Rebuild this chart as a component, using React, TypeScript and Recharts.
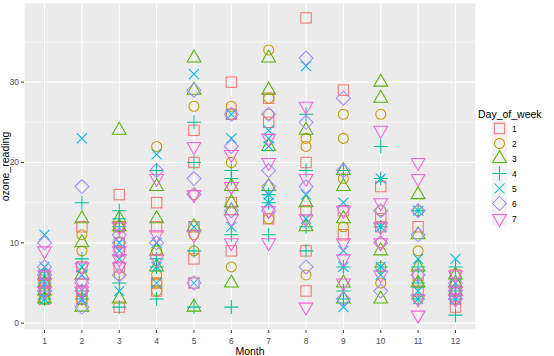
import React from 'react';
import { ScatterChart, Scatter, XAxis, YAxis, CartesianGrid, ReferenceLine, Legend } from 'recharts';

const MONTHS = [1, 2, 3, 4, 5, 6, 7, 8, 9, 10, 11, 12];
const Y_TICKS = [0, 10, 20, 30];
const Y_MINOR = [5, 15, 25, 35];
const DAY_LABELS = ['1', '2', '3', '4', '5', '6', '7'];
const DAY_COLORS = ['#F8766D', '#C49A00', '#53B400', '#00C094', '#00B6EB', '#A58AFF', '#FB61D7'];
const DAY_SHAPES = ['square', 'circle', 'triangle', 'plus', 'cross', 'diamond', 'triangleDown'];

// ozone readings per month (Jan..Dec) for each day of week
const day1 = [[6, 5, 4, 3], [12, 7, 4, 3], [16, 12, 10, 9, 7, 2], [15, 12, 5, 4], [24, 20, 12, 8, 5], [30, 26, 15, 9], [28, 25, 13], [38, 20, 14, 9, 4], [29, 14, 11], [17, 13, 12], [12, 6, 4], [6, 4, 3, 2]];
const day2 = [[5, 4, 3, 6], [11, 9, 4, 3], [12, 10, 6], [22, 9, 6, 5, 4], [27, 16, 11, 9], [27, 26, 20, 7], [34, 28, 26, 13], [23, 22, 6], [26, 23, 18, 12], [26, 14, 10, 7, 5], [14, 9, 5, 3], [5, 4, 3]];
const day3 = [[6, 5, 4, 3], [13, 10, 6, 2], [24, 13, 12, 3], [17, 13, 9, 7], [33, 29, 12, 2], [17, 15, 14, 5], [33, 29, 22, 17], [24, 15, 12], [19, 17, 13, 5, 3], [30, 28, 9, 3], [16, 11, 7, 5], [6, 5, 4]];
const day4 = [[6, 5, 4, 3], [15, 8, 4, 3], [14, 13, 12, 5, 2], [19, 8, 7, 3], [25, 20, 9, 2], [19, 18, 11, 2], [16, 15, 11], [26, 19, 12, 9], [19, 7, 4, 3], [22, 18, 12, 7], [14, 7, 5, 3], [7, 4, 3, 1]];
const day5 = [[11, 7, 5, 3], [23, 7, 6, 3], [10, 9, 8, 4], [21, 10, 7, 5], [31, 12, 5], [26, 23, 12], [24, 23, 22, 16, 15], [32, 16, 13], [15, 9, 7, 2], [18, 12, 7, 6], [14, 8, 4, 3], [8, 5, 3]];
const day6 = [[10, 7, 6, 4], [17, 5, 4, 2], [11, 10, 6], [19, 10], [29, 18, 16, 5], [26, 22, 14], [26, 19, 17, 14], [33, 25, 17, 7], [28, 19, 3], [14, 10, 4], [14, 11, 6], [5, 4, 3]];
const day7 = [[9, 5, 4, 6], [7, 4, 5], [12, 8, 7, 9], [18, 11, 8], [22, 16, 11], [21, 17, 13, 10], [23, 20, 14, 10], [27, 18, 13, 2], [14, 10, 8, 5], [24, 15, 12, 10, 6], [20, 18, 3, 1], [6, 4, 3]];

const DAYS = [day1, day2, day3, day4, day5, day6, day7];

const FONT = '"Liberation Sans", Arial, sans-serif';

const seriesData = DAYS.map((vals) =>
  MONTHS.flatMap((m, i) => vals[i].map((v) => ({ month: m, ozone: v })))
);

function Marker({ cx, cy, kind, color }: { cx: number; cy: number; kind: string; color: string }) {
  const sw = 1.05;
  switch (kind) {
    case 'square':
      return <rect x={cx - 5.2} y={cy - 5.2} width={10.4} height={10.4} fill="none" stroke={color} strokeWidth={sw} />;
    case 'circle':
      return <circle cx={cx} cy={cy} r={5} fill="none" stroke={color} strokeWidth={sw} />;
    case 'triangle':
      return <polygon points={`${cx},${cy - 8} ${cx + 6.9},${cy + 4} ${cx - 6.9},${cy + 4}`} fill="none" stroke={color} strokeWidth={sw} />;
    case 'triangleDown':
      return <polygon points={`${cx},${cy + 8} ${cx + 6.9},${cy - 4} ${cx - 6.9},${cy - 4}`} fill="none" stroke={color} strokeWidth={sw} />;
    case 'plus':
      return (
        <path d={`M${cx - 7},${cy}H${cx + 7}M${cx},${cy - 7}V${cy + 7}`} fill="none" stroke={color} strokeWidth={sw} />
      );
    case 'cross':
      return (
        <path d={`M${cx - 5},${cy - 5}L${cx + 5},${cy + 5}M${cx - 5},${cy + 5}L${cx + 5},${cy - 5}`} fill="none" stroke={color} strokeWidth={sw} />
      );
    case 'diamond':
      return <polygon points={`${cx},${cy - 7} ${cx + 7},${cy} ${cx},${cy + 7} ${cx - 7},${cy}`} fill="none" stroke={color} strokeWidth={sw} />;
    default:
      return null;
  }
}

const XTitle = (props: any) => {
  const vb = props.viewBox || { x: 24, y: 330, width: 452, height: 26 };
  const x = vb.x + vb.width / 2;
  const y = vb.y + vb.height - 1;
  return (
    <text x={x} y={y} textAnchor="middle" fontSize={10.5} fill="#000" fontFamily={FONT}>
      Month
    </text>
  );
};

const YTitle = (props: any) => {
  const vb = props.viewBox || { x: 0, y: 3, width: 24, height: 327 };
  const x = vb.x + 9;
  const y = vb.y + vb.height / 2;
  return (
    <text x={x} y={y} transform={`rotate(-90 ${x} ${y})`} textAnchor="middle" fontSize={10.5} fill="#000" fontFamily={FONT}>
      ozone_reading
    </text>
  );
};

const LegendContent = () => (
  <svg width={78} height={130} style={{ display: 'block', fontFamily: FONT }}>
    <text x={2} y={12} fontSize={10.5} fill="#000">Day_of_week</text>
    {DAY_LABELS.map((lab, i) => {
      const top = 15 + i * 15;
      const cx = 16 + 7.5;
      const cy = top + 7.5;
      return (
        <g key={lab}>
          <rect x={16} y={top} width={15} height={15} fill="#F2F2F2" />
          <Marker cx={cx} cy={cy} kind={DAY_SHAPES[i]} color={DAY_COLORS[i]} />
          <text x={36} y={cy + 3} fontSize={8.4} fill="#000">{lab}</text>
        </g>
      );
    })}
  </svg>
);

export default function App() {
  return (
    <div style={{ position: 'absolute', left: 0, top: 0, width: 554, height: 356, background: '#fff' }}>
      <ScatterChart width={554} height={356} margin={{ top: 3, right: 78, bottom: 0, left: 0 }}>
        <CartesianGrid fill="#EBEBEB" stroke="#FFFFFF" strokeWidth={1.1} />
        {Y_MINOR.map((v) => (
          <ReferenceLine key={v} y={v} stroke="#FFFFFF" strokeWidth={0.55} />
        ))}
        <XAxis
          type="number"
          dataKey="month"
          domain={[0.45, 12.55]}
          ticks={MONTHS}
          allowDataOverflow
          interval={0}
          height={26}
          axisLine={false}
          tickSize={3}
          tickMargin={5}
          tickLine={{ stroke: '#333333' }}
          tick={{ fontSize: 8.4, fill: '#4D4D4D', fontFamily: FONT }}
          label={<XTitle />}
        />
        <YAxis
          type="number"
          dataKey="ozone"
          domain={[-0.85, 39.85]}
          ticks={Y_TICKS}
          allowDataOverflow
          width={24}
          axisLine={false}
          tickSize={3}
          tickMargin={2}
          tickLine={{ stroke: '#333333' }}
          tick={{ fontSize: 8.4, fill: '#4D4D4D', fontFamily: FONT }}
          label={<YTitle />}
        />
        {seriesData.map((d, i) => (
          <Scatter
            key={DAY_LABELS[i]}
            name={DAY_LABELS[i]}
            data={d}
            isAnimationActive={false}
            shape={(p: any) => <Marker cx={p.cx} cy={p.cy} kind={DAY_SHAPES[i]} color={DAY_COLORS[i]} />}
          />
        ))}
        <Legend
          layout="vertical"
          align="center"
          verticalAlign="middle"
          content={<LegendContent />}
          wrapperStyle={{ position: 'absolute', left: 476, top: 106, width: 78, height: 130 }}
        />
      </ScatterChart>
    </div>
  );
}
